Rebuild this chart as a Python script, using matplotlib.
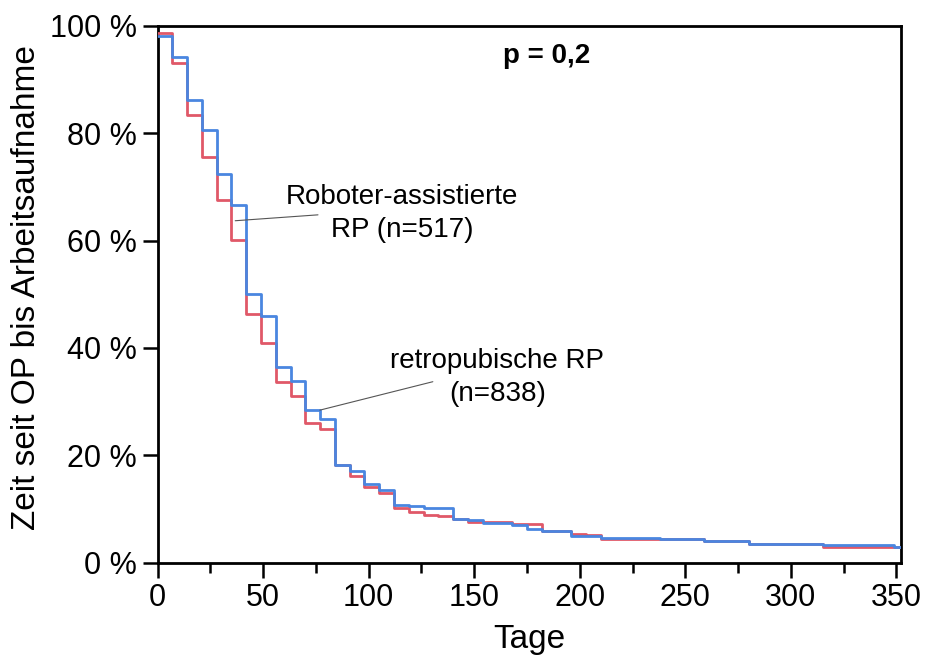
import matplotlib
matplotlib.use("Agg")
import matplotlib.pyplot as plt
from matplotlib.ticker import MultipleLocator, FuncFormatter

plt.rcParams['font.family'] = ['Liberation Sans', 'DejaVu Sans']

# Kaplan-Meier style step data (days, percent)
robot_days = [0, 7, 14, 21, 28, 35, 42, 49, 56, 63, 70, 77, 84, 91, 98, 105,
              112, 119, 126, 140, 147, 154, 168, 175, 182, 196, 210, 238, 259,
              280, 315, 349, 352]
robot_pct = [98.1, 94.3, 86.2, 80.6, 72.4, 66.6, 50.1, 45.9, 36.4, 33.9, 28.5,
             26.8, 18.1, 17.1, 14.7, 13.6, 10.7, 10.5, 10.1, 8.1, 7.9, 7.4, 6.9,
             6.3, 5.8, 4.9, 4.6, 4.4, 4.0, 3.5, 3.2, 2.85, 2.85]

retro_days = [0, 7, 14, 21, 28, 35, 42, 49, 56, 63, 70, 77, 84, 91, 98, 105,
              112, 119, 126, 133, 140, 147, 168, 182, 196, 203, 210, 238, 259,
              280, 315, 352]
retro_pct = [98.6, 93.1, 83.4, 75.5, 67.6, 60.1, 46.4, 41.0, 33.6, 31.1, 26.0,
             24.9, 18.1, 16.1, 14.0, 13.0, 10.1, 9.4, 8.9, 8.7, 8.2, 7.6, 7.1,
             5.8, 5.3, 5.1, 4.4, 4.3, 4.0, 3.5, 2.9, 2.9]

x_ticks = [0, 50, 100, 150, 200, 250, 300, 350]
y_ticks = [0, 20, 40, 60, 80, 100]

# annotation anchors (days, percent)
robot_label = 'Roboter-assistierte\nRP (n=517)'
robot_label_pos = (116, 65)
robot_leader = [(36.8, 63.7), (76.0, 64.8)]
retro_label = 'retropubische RP\n(n=838)'
retro_label_pos = (161, 34.5)
retro_leader = [(76.9, 28.4), (130.4, 33.7)]
p_text = 'p = 0,2'
p_pos = (184.4, 94.4)

red = '#E05868'
blue = '#4A86E0'

fig = plt.figure(figsize=(9.25, 6.56), dpi=100)
ax = fig.add_axes([0.1703, 0.1425, 0.8034, 0.8179])

ax.step(retro_days, retro_pct, where='post', color=red, lw=2.0, zorder=3)
ax.step(robot_days, robot_pct, where='post', color=blue, lw=2.0, zorder=4)

ax.set_xlim(0, 352)
ax.set_ylim(0, 100)
ax.set_xticks(x_ticks)
ax.xaxis.set_minor_locator(MultipleLocator(25))
ax.set_yticks(y_ticks)
ax.yaxis.set_major_formatter(FuncFormatter(lambda v, p: f"{int(v)} %"))

for s in ax.spines.values():
    s.set_linewidth(2.0)
    s.set_color('black')

ax.tick_params(axis='both', which='major', length=11, width=1.8,
               direction='out', labelsize=22, pad=4, colors='black')
ax.tick_params(axis='x', which='minor', length=7, width=1.8, direction='out')

ax.set_xlabel('Tage', fontsize=24)
ax.xaxis.set_label_coords(0.5, -0.115)
ax.set_ylabel('Zeit seit OP bis Arbeitsaufnahme', fontsize=24)
ax.yaxis.set_label_coords(-0.155, 0.513)

# annotations
for (start, end) in (robot_leader, retro_leader):
    ax.annotate('', xy=start, xytext=end,
                arrowprops=dict(arrowstyle='-', color='#555555', lw=0.8,
                                shrinkA=0, shrinkB=0), zorder=5)

ax.text(*robot_label_pos, robot_label, ha='center', va='center', fontsize=20,
        linespacing=1.35, zorder=6)
ax.text(*retro_label_pos, retro_label, ha='center', va='center', fontsize=20,
        linespacing=1.35, zorder=6)

ax.text(*p_pos, p_text, ha='center', va='center', fontsize=20,
        fontweight='bold')

fig.savefig('out.png', dpi=100)
